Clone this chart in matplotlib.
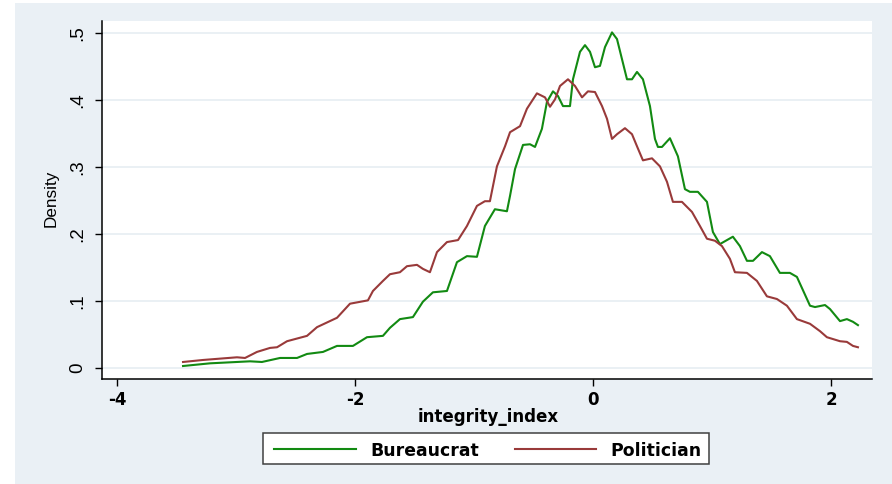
import matplotlib.pyplot as plt
from matplotlib.patches import Rectangle
from matplotlib.lines import Line2D

# Kernel density of integrity_index, by group
bureaucrat_x = [-3.445, -3.218, -2.882, -2.782, -2.630, -2.487, -2.403, -2.269, -2.151, -2.017,
                -1.899, -1.765, -1.706, -1.622, -1.513, -1.429, -1.345, -1.227, -1.143, -1.059,
                -0.975, -0.908, -0.824, -0.723, -0.697, -0.655, -0.588, -0.529, -0.487, -0.429,
                -0.387, -0.336, -0.294, -0.252, -0.193, -0.168, -0.109, -0.067, -0.025, 0.017,
                0.059, 0.101, 0.160, 0.202, 0.244, 0.286, 0.328, 0.370, 0.420, 0.479,
                0.521, 0.546, 0.580, 0.647, 0.714, 0.773, 0.815, 0.882, 0.958, 1.008,
                1.067, 1.176, 1.235, 1.294, 1.345, 1.420, 1.487, 1.571, 1.655, 1.714,
                1.824, 1.866, 1.950, 1.992, 2.076, 2.134, 2.185, 2.227]
bureaucrat_y = [0.003, 0.007, 0.010, 0.009, 0.015, 0.015, 0.021, 0.024, 0.033, 0.033,
                0.046, 0.048, 0.060, 0.073, 0.076, 0.099, 0.113, 0.115, 0.158, 0.167,
                0.166, 0.212, 0.237, 0.234, 0.257, 0.297, 0.333, 0.334, 0.330, 0.357,
                0.397, 0.413, 0.406, 0.391, 0.391, 0.431, 0.472, 0.482, 0.472, 0.449,
                0.451, 0.479, 0.501, 0.491, 0.461, 0.431, 0.431, 0.442, 0.431, 0.391,
                0.342, 0.330, 0.330, 0.343, 0.316, 0.267, 0.263, 0.263, 0.248, 0.203,
                0.185, 0.196, 0.182, 0.160, 0.160, 0.173, 0.167, 0.142, 0.142, 0.136,
                0.093, 0.091, 0.094, 0.088, 0.070, 0.073, 0.069, 0.064]

politician_x = [-3.445, -3.277, -2.992, -2.924, -2.824, -2.714, -2.655, -2.571, -2.403, -2.319,
                -2.151, -2.042, -1.891, -1.849, -1.765, -1.706, -1.622, -1.563, -1.479, -1.429,
                -1.370, -1.311, -1.227, -1.134, -1.059, -0.975, -0.908, -0.866, -0.807, -0.739,
                -0.697, -0.613, -0.555, -0.471, -0.403, -0.361, -0.319, -0.277, -0.210, -0.151,
                -0.092, -0.042, 0.017, 0.076, 0.118, 0.160, 0.202, 0.269, 0.328, 0.370,
                0.420, 0.496, 0.563, 0.622, 0.672, 0.748, 0.832, 0.899, 0.958, 1.025,
                1.084, 1.151, 1.193, 1.294, 1.378, 1.462, 1.546, 1.630, 1.714, 1.824,
                1.908, 1.966, 2.076, 2.134, 2.185, 2.227]
politician_y = [0.009, 0.012, 0.016, 0.015, 0.024, 0.030, 0.031, 0.040, 0.048, 0.061,
                0.075, 0.096, 0.101, 0.115, 0.130, 0.140, 0.143, 0.152, 0.154, 0.148,
                0.143, 0.173, 0.188, 0.191, 0.212, 0.242, 0.249, 0.249, 0.301, 0.331,
                0.352, 0.361, 0.387, 0.410, 0.404, 0.390, 0.401, 0.421, 0.431, 0.421,
                0.404, 0.413, 0.412, 0.391, 0.372, 0.342, 0.349, 0.358, 0.349, 0.331,
                0.310, 0.313, 0.301, 0.278, 0.248, 0.248, 0.233, 0.212, 0.193, 0.190,
                0.182, 0.163, 0.143, 0.142, 0.130, 0.107, 0.103, 0.093, 0.073, 0.066,
                0.055, 0.046, 0.040, 0.039, 0.033, 0.031]

series_names = ['Bureaucrat', 'Politician']
series_colors = ['#128a12', '#993a3a']
x_ticks = [-4, -2, 0, 2]
x_tick_labels = ['-4', '-2', '0', '2']
y_ticks = [0, 0.1, 0.2, 0.3, 0.4, 0.5]
y_tick_labels = ['0', '.1', '.2', '.3', '.4', '.5']

W, H = 892, 485
bg = '#eaf0f5'
WIDE = dict(family='DejaVu Sans', weight='bold')
ARIAL = dict(family='Liberation Sans', weight='normal')

fig = plt.figure(figsize=(W / 100, H / 100), dpi=100, facecolor=bg)

# thin white margin on the left and top edge
fig.add_artist(Rectangle((0, 0), 15 / W, 1, transform=fig.transFigure,
                         facecolor='white', edgecolor='none', zorder=0))
fig.add_artist(Rectangle((0, 1 - 4 / H), 1, 4 / H, transform=fig.transFigure,
                         facecolor='white', edgecolor='none', zorder=0))

ax = fig.add_axes([102 / W, 1 - 380 / H, 770 / W, 358 / H])
ax.set_facecolor('white')

ax.plot(bureaucrat_x, bureaucrat_y, color=series_colors[0], lw=1.5)
ax.plot(politician_x, politician_y, color=series_colors[1], lw=1.5)

ax.set_xlim(-4.126, 2.345)
ax.set_ylim(-0.0164, 0.518)
ax.set_xticks(x_ticks)
ax.set_yticks(y_ticks)
ax.grid(axis='y', color='#eaf0f4', lw=1.4)
ax.set_axisbelow(True)
for side in ['top', 'right']:
    ax.spines[side].set_visible(False)
for side in ['left', 'bottom']:
    ax.spines[side].set_color('black')
    ax.spines[side].set_linewidth(1.1)
ax.tick_params(length=5, width=1.0, labelbottom=False, labelleft=False)

# tick labels, placed from the axis scales
for t, lab in zip(x_ticks, x_tick_labels):
    px = ax.transData.transform((t, 0))[0]
    fig.text(px / W, 1 - 405 / H, lab, ha='center', va='baseline', fontsize=12, **WIDE)
for t, lab in zip(y_ticks, y_tick_labels):
    py = ax.transData.transform((0, t))[1]
    fig.text(82 / W, (py + 1) / H, lab, ha='center', va='baseline', rotation=90,
             rotation_mode='anchor', fontsize=13.5, **ARIAL)

fig.text(488.5 / W, 1 - 422.3 / H, 'integrity_index', ha='center', va='baseline',
         fontsize=12, **WIDE)
fig.text(56 / W, 1 - 198.5 / H, 'Density', ha='center', va='baseline', rotation=90,
         rotation_mode='anchor', fontsize=12.3, **ARIAL)

# legend
fig.add_artist(Rectangle((263 / W, 1 - 465 / H), 446 / W, 31 / H, transform=fig.transFigure,
                         facecolor='white', edgecolor='#404040', lw=1.1))
handle_x = [(274, 356), (515, 596)]
text_left = [370.5, 610.5]
for name, col, (x0, x1), tl in zip(series_names, series_colors, handle_x, text_left):
    fig.add_artist(Line2D([x0 / W, x1 / W], [1 - 449.5 / H] * 2, transform=fig.transFigure,
                          color=col, lw=1.5))
    fig.text(tl / W, 1 - 456 / H, name, ha='left', va='baseline', fontsize=12.4, **WIDE)

fig.savefig('out.png', dpi=100, facecolor=bg)
